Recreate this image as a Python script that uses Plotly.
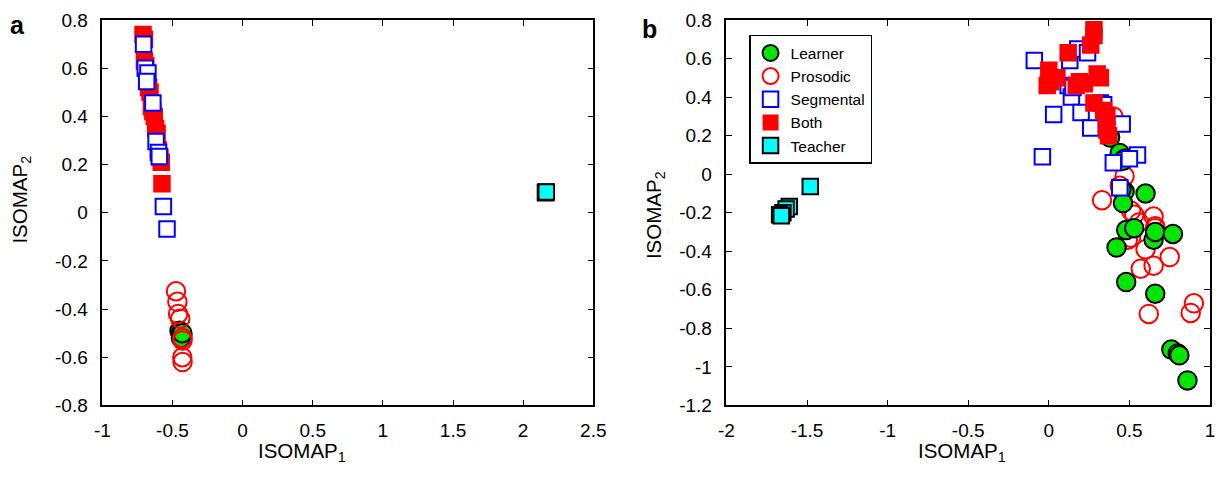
import plotly.graph_objects as go

# ---------------- Panel a data ----------------
a_both_x = [-0.71, -0.70, -0.70, -0.69, -0.68, -0.67, -0.66, -0.65, -0.64, -0.63, -0.62, -0.61, -0.60, -0.59, -0.58, -0.575]
a_both_y = [0.74, 0.72, 0.63, 0.61, 0.56, 0.52, 0.50, 0.44, 0.42, 0.40, 0.35, 0.33, 0.26, 0.23, 0.21, 0.12]
a_seg_x = [-0.706, -0.694, -0.675, -0.684, -0.64, -0.617, -0.60, -0.594, -0.565, -0.539]
a_seg_y = [0.70, 0.60, 0.58, 0.545, 0.456, 0.296, 0.25, 0.233, 0.026, -0.068]
a_learner_x = [-0.45, -0.44, -0.43, -0.44, -0.43]
a_learner_y = [-0.49, -0.50, -0.51, -0.52, -0.50]
a_pros_x = [-0.475, -0.465, -0.46, -0.445, -0.43, -0.428, -0.43, -0.428]
a_pros_y = [-0.326, -0.37, -0.42, -0.44, -0.52, -0.53, -0.60, -0.62]
a_teacher_x = [2.16, 2.16, 2.165]
a_teacher_y = [0.085, 0.083, 0.086]

# ---------------- Panel b data ----------------
b_learner_x = [0.38, 0.44, 0.47, 0.46, 0.47, 0.45, 0.60, 0.46, 0.48, 0.42, 0.53, 0.65, 0.66, 0.77, 0.48, 0.66, 0.76, 0.80, 0.81, 0.86]
b_learner_y = [0.19, 0.11, 0.08, 0.07, -0.09, -0.08, -0.10, -0.15, -0.29, -0.38, -0.28, -0.34, -0.30, -0.31, -0.56, -0.62, -0.91, -0.93, -0.94, -1.07]
b_pros_x = [0.40, 0.47, 0.44, 0.33, 0.51, 0.53, 0.65, 0.66, 0.56, 0.51, 0.49, 0.60, 0.75, 0.57, 0.65, 0.62, 0.88, 0.90, 0.66]
b_pros_y = [0.30, -0.01, -0.06, -0.135, -0.19, -0.21, -0.22, -0.27, -0.25, -0.33, -0.34, -0.39, -0.43, -0.49, -0.475, -0.725, -0.72, -0.67, -0.28]
b_seg_x = [-0.09, 0.13, 0.18, 0.24, 0.12, 0.14, 0.03, 0.20, 0.26, 0.32, 0.34, 0.455, -0.04, 0.55, 0.40, 0.50, 0.44, 0.15]
b_seg_y = [0.59, 0.59, 0.65, 0.63, 0.46, 0.40, 0.31, 0.32, 0.24, 0.37, 0.36, 0.26, 0.09, 0.10, 0.06, 0.08, -0.07, 0.45]
b_both_x = [0.28, 0.28, 0.26, 0.12, 0.0, 0.01, -0.01, 0.05, 0.19, 0.17, 0.30, 0.32, 0.28, 0.34, 0.36, 0.36, 0.37, 0.22]
b_both_y = [0.75, 0.72, 0.67, 0.63, 0.54, 0.48, 0.46, 0.50, 0.48, 0.46, 0.52, 0.50, 0.37, 0.33, 0.30, 0.23, 0.20, 0.47]
b_teacher_x = [-1.48, -1.61, -1.63, -1.65, -1.67, -1.66]
b_teacher_y = [-0.064, -0.167, -0.18, -0.20, -0.21, -0.215]

# tick labels
a_xticks = [-1, -0.5, 0, 0.5, 1, 1.5, 2, 2.5]
a_xtext = ["-1", "-0.5", "0", "0.5", "1", "1.5", "2", "2.5"]
a_yticks = [-0.8, -0.6, -0.4, -0.2, 0, 0.2, 0.4, 0.6, 0.8]
a_ytext = ["-0.8", "-0.6", "-0.4", "-0.2", "0", "0.2", "0.4", "0.6", "0.8"]
b_xticks = [-2, -1.5, -1, -0.5, 0, 0.5, 1]
b_xtext = ["-2", "-1.5", "-1", "-0.5", "0", "0.5", "1"]
b_yticks = [-1.2, -1, -0.8, -0.6, -0.4, -0.2, 0, 0.2, 0.4, 0.6, 0.8]
b_ytext = ["-1.2", "-1", "-0.8", "-0.6", "-0.4", "-0.2", "0", "0.2", "0.4", "0.6", "0.8"]

GREEN = "#00E600"
RED = "#FF0000"
BLUE = "#0000FF"
CYAN = "#00FFFF"

styles = {
    "Learner": dict(symbol="circle", size=18.5, color=GREEN, line=dict(color="black", width=2)),
    "Prosodic": dict(symbol="circle-open", size=18.5, color=RED, line=dict(color=RED, width=2)),
    "Segmental": dict(symbol="square", size=15.5, color="white", line=dict(color=BLUE, width=2)),
    "Both": dict(symbol="square", size=17.5, color=RED, line=dict(color=RED, width=0)),
    "Teacher": dict(symbol="square", size=15.5, color=CYAN, line=dict(color="black", width=2)),
}
rank = {"Learner": 1, "Prosodic": 2, "Segmental": 3, "Both": 4, "Teacher": 5}

fig = go.Figure()

def add(name, x, y, xa, ya, show):
    fig.add_trace(go.Scatter(x=x, y=y, mode="markers", name=name, marker=styles[name],
                             xaxis=xa, yaxis=ya, showlegend=show, legendrank=rank[name]))

add("Both", a_both_x, a_both_y, "x", "y", False)
add("Segmental", a_seg_x, a_seg_y, "x", "y", False)
add("Learner", a_learner_x, a_learner_y, "x", "y", False)
add("Prosodic", a_pros_x, a_pros_y, "x", "y", False)
add("Teacher", a_teacher_x, a_teacher_y, "x", "y", False)
add("Prosodic", b_pros_x, b_pros_y, "x2", "y2", True)
add("Learner", b_learner_x, b_learner_y, "x2", "y2", True)
add("Segmental", b_seg_x, b_seg_y, "x2", "y2", True)
add("Both", b_both_x, b_both_y, "x2", "y2", True)
add("Teacher", b_teacher_x, b_teacher_y, "x2", "y2", True)

FONT = "Arial, Liberation Sans, sans-serif"
W, H = 1224, 481


def PX(p):
    return min(max(p / W, 0), 1)


def PY(p):
    return min(max(1 - p / H, 0), 1)


def axis(domain, rng, tv, tt, standoff):
    return dict(domain=domain, range=rng, tickvals=tv, ticktext=tt, ticks="inside", ticklen=6,
                tickwidth=1, tickcolor="black", mirror="allticks", showline=True, linecolor="black",
                linewidth=1.5, showgrid=False, zeroline=False, ticklabelstandoff=standoff,
                tickfont=dict(family=FONT, size=19, color="black"))


ydom = [PY(413.5), PY(10.5)]
fig.update_layout(
    width=W, height=H, margin=dict(l=0, r=0, t=0, b=0),
    paper_bgcolor="white", plot_bgcolor="white",
    font=dict(family=FONT, color="black"),
    xaxis=axis([PX(96), PX(595.5)], [-1, 2.5], a_xticks, a_xtext, 7),
    yaxis=axis(ydom, [-0.8, 0.8], a_yticks, a_ytext, 9),
    xaxis2=axis([PX(731), PX(1223)], [-2, 1], b_xticks, b_xtext, 7),
    yaxis2=axis(ydom, [-1.2, 0.8], b_yticks, b_ytext, 9),
    legend=dict(x=PX(754), y=PY(26), xanchor="left", yanchor="top", bgcolor="white",
                bordercolor="black", borderwidth=1.5, itemwidth=30,
                font=dict(family=FONT, size=15.5, color="black"), traceorder="normal"),
    showlegend=True,
)
fig.layout.yaxis2.anchor = "x2"
fig.layout.xaxis2.anchor = "y2"

for text, x, y in [("<b>a</b>", 9.5, 15.6), ("<b>b</b>", 652.6, 19.7)]:
    fig.add_annotation(text=text, x=PX(x), y=PY(y), xref="paper", yref="paper",
                       xanchor="center", yanchor="middle", showarrow=False,
                       font=dict(family=FONT, size=25, color="black"))

for text, x, y, ang in [("ISOMAP<sub>1</sub>", 299.5, 462, 0), ("ISOMAP<sub>1</sub>", 971, 462, 0),
                        ("ISOMAP<sub>2</sub>", 13.5, 198, -90), ("ISOMAP<sub>2</sub>", 657.7, 214, -90)]:
    fig.add_annotation(text=text, x=PX(x), y=PY(y), xref="paper", yref="paper",
                       xanchor="center", yanchor="middle", showarrow=False, textangle=ang,
                       font=dict(family=FONT, size=20.5, color="black"))

fig.write_html("out.html", config={"displayModeBar": False},
               post_script="document.body.style.margin='0';document.body.style.overflow='hidden';")
